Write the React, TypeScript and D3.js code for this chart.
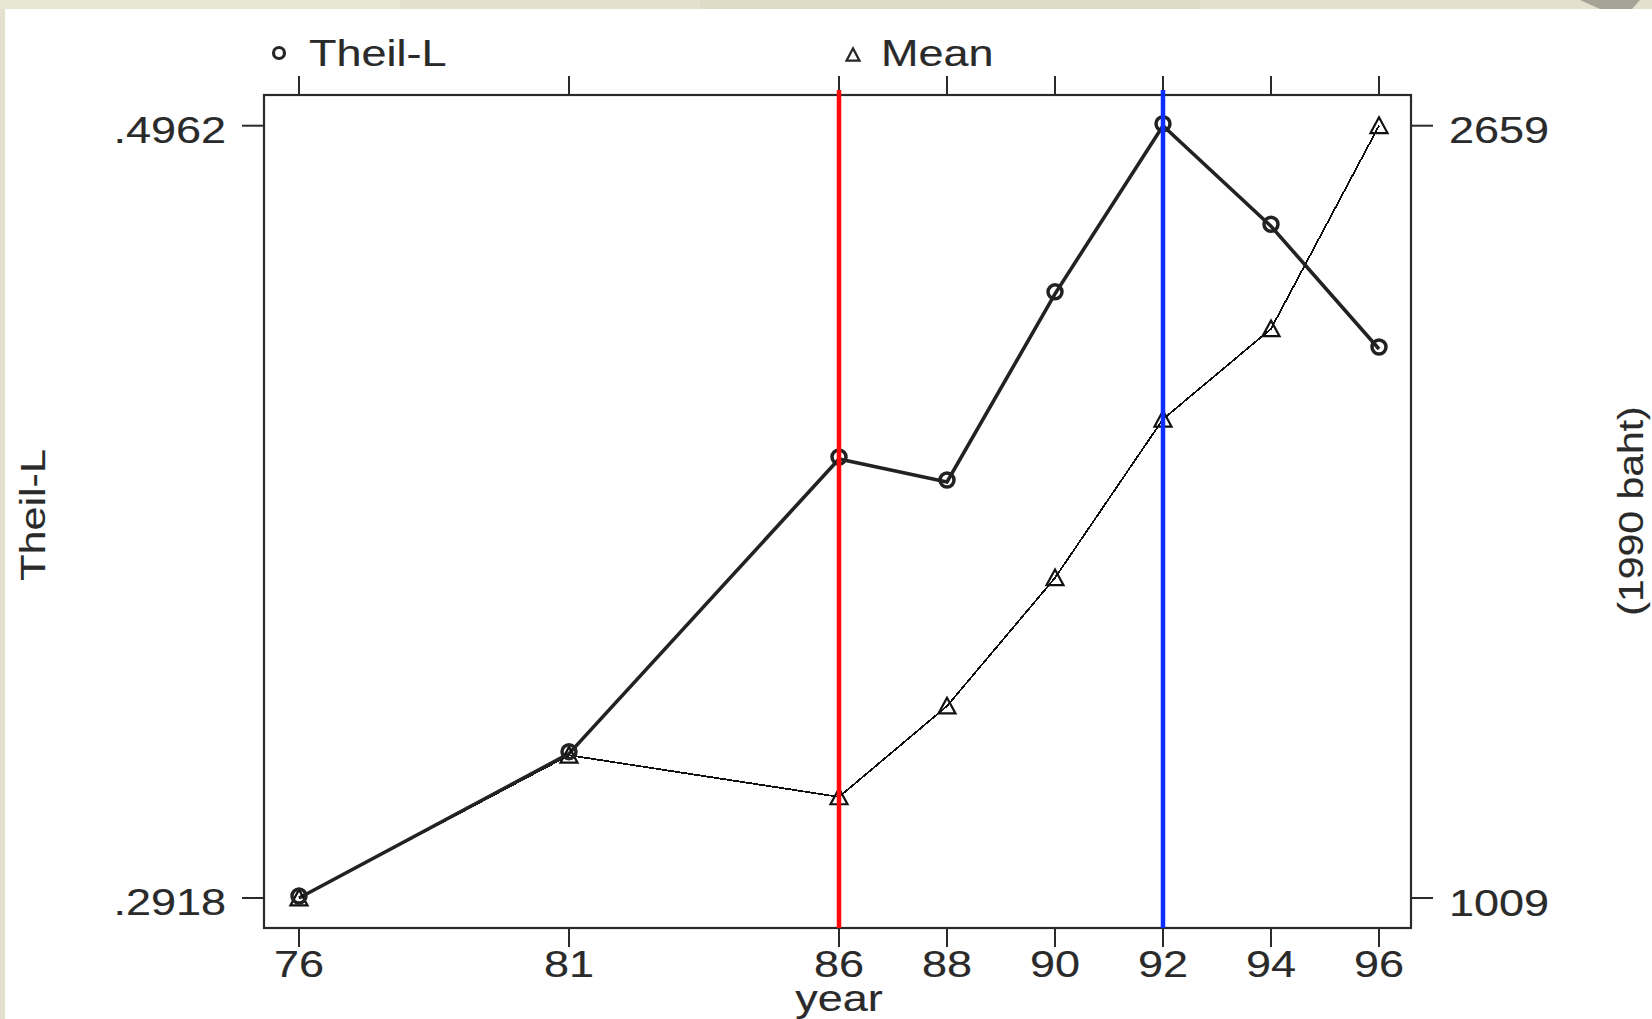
import React from "react";
import * as d3 from "d3";

const years = [76, 81, 86, 88, 90, 92, 94, 96];
const theilL = [0.2918, 0.33, 0.408, 0.4019, 0.4517, 0.4962, 0.4696, 0.4371];
const meanIncome = [1009, 1314, 1225, 1419, 1693, 2032, 2225, 2659];
const leftTicks = [0.2918, 0.4962];
const leftTickLabels = [".2918", ".4962"];
const rightTicks = [1009, 2659];
const rightTickLabels = ["1009", "2659"];
const markerYears = [86, 92];
const markerColors = ["#ff0a0a", "#0a2eff"];

const W = 1652;
const H = 1019;
const box = { left: 264, right: 1411, top: 95, bottom: 928 };
const FONT = "'Liberation Sans', Arial, Helvetica, sans-serif";
const FS = 36;
const SX = 1.25;
const TXT = "#2a2a2a";

function T({ x, y, anchor = "start", rot = 0, sx = SX, fs = FS, children }: any) {
  return (
    <g transform={`translate(${x},${y}) rotate(${rot}) scale(${sx},1)`}>
      <text
        x={0}
        y={0}
        textAnchor={anchor}
        fontFamily={FONT}
        fontSize={fs}
        fill={TXT}
        stroke={TXT}
        strokeWidth={0.15}
      >
        {children}
      </text>
    </g>
  );
}

export default function App() {
  const x = d3.scaleLinear().domain([76, 96]).range([299, 1379]);
  const yL = d3.scaleLinear().domain([0.2918, 0.4962]).range([898, 125.7]);
  const yR = d3.scaleLinear().domain([1009, 2659]).range([898, 125.7]);

  const theilLine = d3
    .line<number>()
    .x((_, i) => x(years[i]))
    .y((d) => yL(d))(theilL) as string;
  const meanLine = d3
    .line<number>()
    .x((_, i) => x(years[i]))
    .y((d) => yR(d))(meanIncome) as string;

  const tri = (cx: number, cy: number, s: number) => {
    const h = s * 0.866;
    return `M${cx},${cy - h / 2 - 1}L${cx + s / 2},${cy + h / 2}L${cx - s / 2},${cy + h / 2}Z`;
  };

  return (
    <svg
      width={W}
      height={H}
      style={{ position: "absolute", left: 0, top: 0, display: "block" }}
    >
      <rect x={0} y={0} width={W} height={H} fill="#e3e1cd" />
      <rect x={0} y={0} width={400} height={9} fill="#e8e6d4" />
      <rect x={700} y={0} width={500} height={9} fill="#dedbc6" />
      <path d="M1580,0 L1640,0 L1632,9 L1600,9 Z" fill="#8a8a80" opacity={0.7} />
      <rect x={5} y={9} width={W - 5} height={H - 9} fill="#ffffff" />

      {/* axes box */}
      <rect
        x={box.left}
        y={box.top}
        width={box.right - box.left}
        height={box.bottom - box.top}
        fill="none"
        stroke="#2a2a2a"
        strokeWidth={2.2}
      />
      {/* x ticks top and bottom */}
      {years.map((yr) => (
        <g key={"xt" + yr}>
          <line x1={x(yr)} x2={x(yr)} y1={box.top} y2={76} stroke="#2a2a2a" strokeWidth={2} />
          <line x1={x(yr)} x2={x(yr)} y1={box.bottom} y2={947} stroke="#2a2a2a" strokeWidth={2} />
          <T x={x(yr)} y={977} anchor="middle">
            {String(yr)}
          </T>
        </g>
      ))}
      {/* left ticks */}
      {leftTicks.map((v, i) => (
        <g key={"lt" + i}>
          <line x1={242} x2={box.left} y1={yL(v)} y2={yL(v)} stroke="#2a2a2a" strokeWidth={2} />
          <T x={226} y={yL(v) + 17} anchor="end">
            {leftTickLabels[i]}
          </T>
        </g>
      ))}
      {/* right ticks */}
      {rightTicks.map((v, i) => (
        <g key={"rt" + i}>
          <line x1={box.right} x2={1433} y1={yR(v)} y2={yR(v)} stroke="#2a2a2a" strokeWidth={2} />
          <T x={1449} y={yR(v) + 17.5} anchor="start">
            {rightTickLabels[i]}
          </T>
        </g>
      ))}

      {/* axis titles */}
      <T x={839} y={1011} anchor="middle">
        year
      </T>
      <T x={45} y={515} anchor="middle" rot={-90} sx={1.2}>
        Theil-L
      </T>
      <T x={1643} y={511} anchor="middle" rot={-90} fs={35} sx={1.17}>
        (1990 baht)
      </T>

      {/* legend */}
      <circle cx={279} cy={53} r={5.5} fill="none" stroke="#262626" strokeWidth={3.2} />
      <T x={309} y={66} anchor="start">
        Theil-L
      </T>
      <path d={tri(853, 55, 13)} fill="none" stroke="#262626" strokeWidth={2.2} />
      <T x={881} y={66} anchor="start">
        Mean
      </T>

      {/* series */}
      <path d={meanLine} fill="none" stroke="#111" strokeWidth={1.8} shapeRendering="crispEdges" />
      <path d={theilLine} fill="none" stroke="#222" strokeWidth={3.6} />
      {meanIncome.map((v, i) => (
        <path key={"m" + i} d={tri(x(years[i]), yR(v), 17)} fill="none" stroke="#111" strokeWidth={2.2} />
      ))}
      {theilL.map((v, i) => (
        <circle key={"c" + i} cx={x(years[i])} cy={yL(v) - 2} r={7} fill="none" stroke="#222" strokeWidth={3.5} />
      ))}

      {/* vertical reference lines */}
      {markerYears.map((yr, i) => (
        <line
          key={"v" + yr}
          x1={x(yr)}
          x2={x(yr)}
          y1={90}
          y2={box.bottom}
          stroke={markerColors[i]}
          strokeWidth={4.5}
        />
      ))}
    </svg>
  );
}
